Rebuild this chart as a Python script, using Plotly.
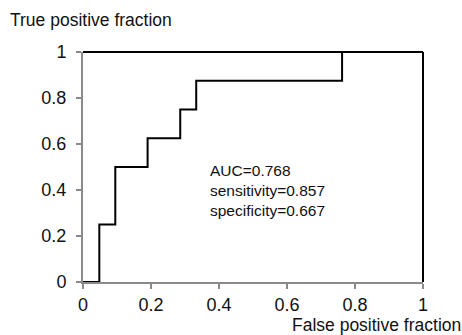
import plotly.graph_objects as go

fpr = [0, 0.048, 0.095, 0.19, 0.286, 0.333, 0.762, 1]
tpr = [0, 0.25, 0.5, 0.625, 0.75, 0.875, 1, 1]
tick_vals = [0, 0.2, 0.4, 0.6, 0.8, 1]
tick_text = ["0", "0.2", "0.4", "0.6", "0.8", "1"]
stats_lines = ["AUC=0.768", "sensitivity=0.857", "specificity=0.667"]

FONT = "Liberation Sans, Arial, sans-serif"

fig = go.Figure()
fig.add_trace(go.Scatter(x=fpr, y=tpr, mode="lines", line=dict(color="black", width=2, shape="hv"),
                         cliponaxis=False, hoverinfo="skip", showlegend=False))

# top and right frame lines (black)
fig.add_shape(type="line", xref="paper", yref="paper", x0=0, x1=1, y0=1, y1=1,
              line=dict(color="black", width=2))
fig.add_shape(type="line", xref="paper", yref="paper", x0=1, x1=1, y0=0, y1=1,
              line=dict(color="black", width=2))

fig.add_annotation(x=0.368, y=0.532, xref="x", yref="y", xanchor="left", yanchor="top",
                   text="<br>".join(stats_lines), showarrow=False, align="left",
                   font=dict(family=FONT, size=15.5, color="#111"))

fig.add_annotation(x=0, y=1, xref="paper", yref="paper", xanchor="left", yanchor="bottom",
                   yshift=20, xshift=-75, text="True positive fraction", showarrow=False,
                   font=dict(family=FONT, size=17.5, color="#111"))
fig.add_annotation(x=1, y=0, xref="paper", yref="paper", xanchor="right", yanchor="top",
                   yshift=-31, xshift=40, text="False positive fraction", showarrow=False,
                   font=dict(family=FONT, size=17.5, color="#111"))

axis_common = dict(range=[0, 1], tickvals=tick_vals, ticktext=tick_text, showgrid=False, zeroline=False,
                   showline=True, linecolor="#8a8a8a", linewidth=2, ticks="outside", ticklen=5,
                   tickwidth=1.5, tickcolor="#8a8a8a", tickfont=dict(family=FONT, size=18, color="#111"))
fig.update_xaxes(**axis_common)
fig.update_yaxes(**axis_common, ticklabelstandoff=6)

fig.update_layout(width=462, height=335, margin=dict(l=83, r=39, t=52, b=53),
                  paper_bgcolor="white", plot_bgcolor="white", showlegend=False)

fig.write_html("out.html", config={"displayModeBar": False},
               post_script="document.body.style.margin='0';document.body.style.overflow='hidden';")
